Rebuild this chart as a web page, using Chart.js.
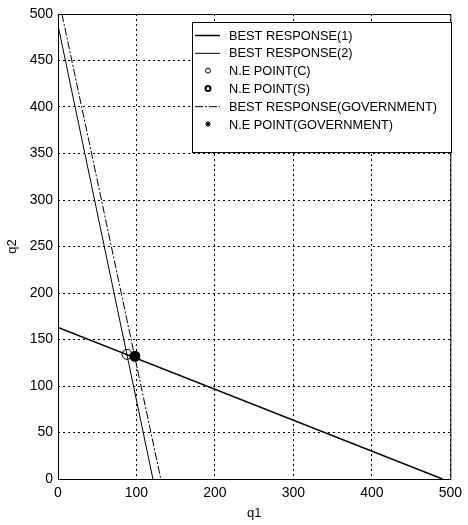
<!DOCTYPE html>
<html>
<head>
<meta charset="utf-8">
<script src="https://cdn.jsdelivr.net/npm/chart.js@4.4.1/dist/chart.umd.min.js"></script>
<style>
  html, body { margin: 0; padding: 0; background: #fff; }
  #wrap { width: 468px; height: 525px; position: relative; }
</style>
</head>
<body>
<div id="wrap"><canvas id="chart"></canvas></div>
<script>
// dati
const xTicks = [0, 100, 200, 300, 400, 500];
const yTicks = [0, 50, 100, 150, 200, 250, 300, 350, 400, 450, 500];
const bestResponse1 = [{x: 0, y: 163}, {x: 490, y: 0}];
const bestResponse2 = [{x: 0, y: 488}, {x: 121, y: 0}];
const bestResponseGov = [{x: 5, y: 500}, {x: 131, y: 0}];
const nePointC = [{x: 88, y: 134}];
const nePointS = [{x: 98, y: 132}];
const nePointGov = [{x: 98, y: 132}];
const legendLabels = ['BEST RESPONSE(1)', 'BEST RESPONSE(2)', 'N.E POINT(C)', 'N.E POINT(S)', 'BEST RESPONSE(GOVERNMENT)', 'N.E POINT(GOVERNMENT)'];

const FONT = "'Liberation Sans Narrow', 'Liberation Sans', Arial, sans-serif";

// cornice e legenda disegnate a mano, come in MATLAB
const boxPlugin = {
    id: 'box',
    afterDatasetsDraw(chart) {
        const {ctx, chartArea: a} = chart;
        ctx.save();
        ctx.strokeStyle = '#000';
        ctx.lineWidth = 1;
        ctx.setLineDash([]);
        ctx.strokeRect(a.left + 0.5, a.top + 0.5, a.right - a.left, a.bottom - a.top);

        // legenda
        const bx = 192, by = 22, bw = 259, bh = 130;
        ctx.fillStyle = '#fff';
        ctx.fillRect(bx, by, bw, bh);
        ctx.strokeRect(bx + 0.5, by + 0.5, bw, bh);
        ctx.font = '13px ' + FONT;
        ctx.fillStyle = '#000';
        ctx.textBaseline = 'middle';
        const maxW = Math.max(...legendLabels.map(t => ctx.measureText(t).width));
        const sx = Math.min(1, 208 / maxW);
        legendLabels.forEach((t, i) => {
            const y = by + 13 + i * 17.8;
            ctx.save();
            ctx.translate(229, y);
            ctx.scale(sx, 1);
            ctx.fillText(t, 0, 1);
            ctx.restore();
            ctx.beginPath();
            if (i === 0 || i === 1 || i === 4) {
                ctx.lineWidth = i === 0 ? 1.5 : 1;
                ctx.setLineDash(i === 4 ? [8, 2, 2, 2] : []);
                ctx.moveTo(195, y + 0.5);
                ctx.lineTo(220, y + 0.5);
                ctx.stroke();
                ctx.setLineDash([]);
            } else if (i === 2 || i === 3) {
                ctx.lineWidth = i === 3 ? 2 : 1;
                ctx.arc(208, y, 2.5, 0, Math.PI * 2);
                ctx.stroke();
            } else {
                ctx.lineWidth = 1;
                for (let k = 0; k < 4; k++) {
                    const ang = k * Math.PI / 4;
                    ctx.moveTo(208 - 3 * Math.cos(ang), y - 3 * Math.sin(ang));
                    ctx.lineTo(208 + 3 * Math.cos(ang), y + 3 * Math.sin(ang));
                }
                ctx.stroke();
                ctx.beginPath();
                ctx.arc(208, y, 1.5, 0, Math.PI * 2);
                ctx.fill();
            }
        });
        ctx.restore();
    }
};

new Chart(document.getElementById('chart'), {
    type: 'scatter',
    data: {
        datasets: [
            { label: legendLabels[0], data: bestResponse1, showLine: true, borderColor: '#000', borderWidth: 1.5, pointRadius: 0 },
            { label: legendLabels[1], data: bestResponse2, showLine: true, borderColor: '#000', borderWidth: 1, pointRadius: 0 },
            { label: legendLabels[2], data: nePointC, borderColor: '#000', backgroundColor: 'rgba(0,0,0,0)', borderWidth: 1, pointRadius: 5 },
            { label: legendLabels[3], data: nePointS, borderColor: '#000', backgroundColor: '#000', borderWidth: 2, pointRadius: 4.5 },
            { label: legendLabels[4], data: bestResponseGov, showLine: true, borderColor: '#000', borderWidth: 1, borderDash: [8, 2, 2, 2], pointRadius: 0 },
            { label: legendLabels[5], data: nePointGov, pointStyle: 'star', borderColor: '#000', borderWidth: 1, pointRadius: 5 }
        ]
    },
    options: {
        responsive: true,
        maintainAspectRatio: false,
        animation: false,
        layout: { padding: { left: 0, top: 14, right: 13, bottom: 0 } },
        plugins: { legend: { display: false }, tooltip: { enabled: false } },
        scales: {
            x: {
                type: 'linear', min: 0, max: 500,
                afterBuildTicks: s => { s.ticks = xTicks.map(v => ({value: v})); },
                afterFit: s => { s.height = 46; },
                grid: { color: '#000', lineWidth: 1, drawTicks: false },
                border: { display: false, dash: [2, 3] },
                ticks: { color: '#000', padding: 6, font: { family: FONT, size: 14 } },
                title: { display: true, text: 'q1', color: '#000', padding: { top: 0, bottom: 4 }, font: { family: FONT, size: 13 } }
            },
            y: {
                type: 'linear', min: 0, max: 500,
                afterBuildTicks: s => { s.ticks = yTicks.map(v => ({value: v})); },
                afterFit: s => { s.width = 58; },
                grid: { color: '#000', lineWidth: 1, drawTicks: false },
                border: { display: false, dash: [2, 3] },
                ticks: { color: '#000', padding: 5, font: { family: FONT, size: 14 } },
                title: { display: true, text: 'q2', color: '#000', padding: { top: 5, bottom: 0 }, font: { family: FONT, size: 13 } }
            }
        }
    },
    plugins: [boxPlugin]
});
</script>
</body>
</html>
